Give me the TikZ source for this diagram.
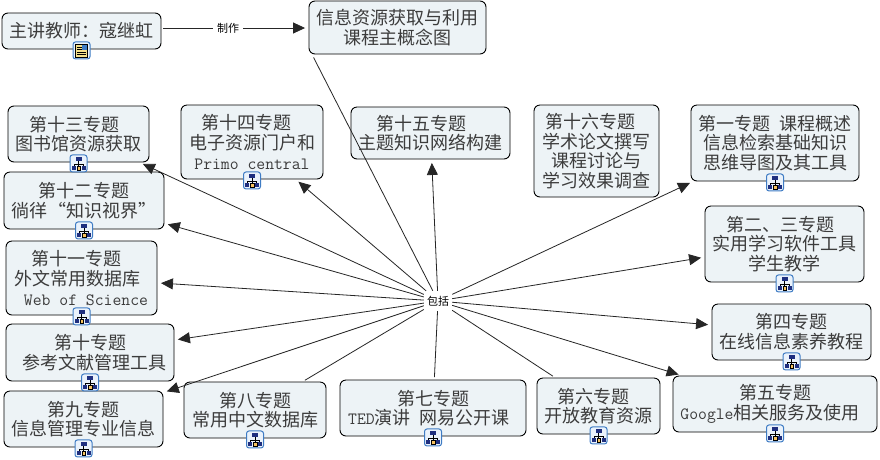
\documentclass[tikz,border=0pt]{standalone}
\usepackage{fontspec}
\setmainfont{Noto Sans CJK SC}
\usetikzlibrary{arrows.meta,calc}
\AtBeginDocument{\lineskiplimit=-100pt\relax}
\definecolor{boxfill}{HTML}{EDF3F6}
\definecolor{boxtext}{HTML}{3C3C3C}
\definecolor{iconblue}{HTML}{3F7CC4}
\definecolor{iconfill}{HTML}{EAF2FB}
\definecolor{iconnavy}{HTML}{1F2F7F}
\definecolor{iconyellow}{HTML}{F4E08A}
\newcommand{\lat}[1]{{\ttfamily\fontsize{17.2}{19.7}\selectfont #1}}
\newcommand{\tsp}[1]{\rule{#1pt}{0pt}}
\tikzset{
  topic/.style={draw=black,line width=0.9pt,fill=boxfill,rounded corners=6pt,inner sep=0pt,align=center,
    text=boxtext,font=\fontsize{18}{19.7}\selectfont},
  linklabel/.style={inner sep=0pt,text=black,font=\fontsize{11}{13}\selectfont},
  link/.style={draw=black!85,line width=0.8pt},
  arrowlink/.style={link,shorten >=3.5pt,-{Triangle[length=12pt,width=11pt]}},
  treeicon/.pic={
    \draw[iconblue,line width=1pt,fill=iconfill,rounded corners=2.5pt] (-8.5,-8.5) rectangle (8.5,8.5);
    \draw[black,line width=0.6pt] (0,-2) -- (0,1) (-4.5,3) -- (-4.5,1) -- (4.5,1) -- (4.5,3) (0,1) -- (0,3);
    \fill[iconnavy] (-3,-6.5) rectangle (3,-2);
    \fill[iconnavy] (-7,3) rectangle (-3,7);
    \fill[iconyellow!70!orange,draw=black,line width=0.3pt] (-1.8,3) rectangle (1.8,7);
    \fill[iconnavy] (3,3) rectangle (7,7);
  },
  docicon/.pic={
    \draw[iconblue,line width=1pt,fill=iconfill,rounded corners=2.5pt] (-8.5,-8.5) rectangle (8.5,8.5);
    \fill[iconyellow,draw=black,line width=0.5pt] (-6,-6.5) rectangle (6,6.5);
    \draw[black,line width=0.6pt] (-4.5,-3.5) -- (0,-3.5) (-4.5,-1) -- (0,-1) (-4.5,1.5) -- (4.5,1.5) (-4.5,4) -- (4.5,4);
    \fill[iconblue] (0.8,-5) rectangle (5,-0.5);
  },
}
\begin{document}
\begin{tikzpicture}[x=1pt,y=-1pt]
\useasboundingbox[fill=white] (0,0) rectangle (880,459);
% link labels
\node[linklabel,minimum width=30pt] (made) at (228,28) {制作};
\node[linklabel,minimum width=28pt,minimum height=20pt] (inc) at (438,301) {包括};
% topics
\node[topic,minimum width=159pt,minimum height=36pt] (teacher) at (81.5,31) {主讲教师：寇继虹};
\node[topic,minimum width=177pt,minimum height=53pt] (title) at (397.5,27.5) {信息资源获取与利用\\课程主概念图};
\node[topic,minimum width=141pt,minimum height=56pt] (t13) at (78.5,134) {第十三专题\tsp{9}\\图书馆资源获取};
\node[topic,minimum width=160pt,minimum height=57pt] (t12) at (84,200.5) {第十二专题\\徜徉“知识视界”};
\node[topic,minimum width=142pt,minimum height=74pt] (t14) at (252,142) {第十四专题\tsp{12}\\电子资源门户和\\\lat{Primo central}};
\node[topic,minimum width=159pt,minimum height=52pt] (t15) at (430.5,133) {第十五专题\tsp{18}\\主题知识网络构建};
\node[topic,minimum width=125pt,minimum height=92pt] (t16) at (596.5,151) {第十六专题\tsp{13}\\学术论文撰写\\课程讨论与\\学习效果调查};
\node[topic,minimum width=168pt,minimum height=76pt] (t1) at (775,143) {第一专题\tsp{9}课程概述\\信息检索基础知识\\思维导图及其工具};
\node[topic,minimum width=159pt,minimum height=76pt] (t2) at (784.5,244) {第二、三专题\tsp{9}\\实用学习软件工具\\学生教学};
\node[topic,minimum width=151pt,minimum height=74pt] (t11) at (81.5,278) {第十一专题\tsp{10}\\外文常用数据库\tsp{9}\\\tsp{9}\lat{Web of Science}};
\node[topic,minimum width=159pt,minimum height=56pt] (t4) at (791.5,332) {第四专题\\在线信息素养教程};
\node[topic,minimum width=168pt,minimum height=57pt] (t10) at (90,352.5) {第十专题\\\tsp{9}参考文献管理工具};
\node[topic,minimum width=204pt,minimum height=56pt] (t5) at (775,404) {第五专题\\\lat{Google}相关服务及使用\tsp{10}};
\node[topic,minimum width=159pt,minimum height=56pt] (t9) at (83.5,419) {第九专题\\信息管理专业信息};
\node[topic,minimum width=142pt,minimum height=56pt] (t8) at (255,410) {第八专题\\常用中文数据库};
\node[topic,minimum width=186pt,minimum height=56pt] (t7) at (433,408) {第七专题\\\lat{TED}演讲\tsp{9}网易公开课\tsp{8}};
\node[topic,minimum width=123pt,minimum height=56pt] (t6) at (598.5,406) {第六专题\tsp{10}\\开放教育资源};
% connectors
\coordinate (titlefoot) at ($(title.south west)+(5,3)$);
\draw[link] (teacher.east |- made) ++(2,0) -- (made);
\draw[arrowlink] (made) -- (title.west |- made);
\draw[link] (titlefoot) -- (inc);
\foreach \t in {t13,t12,t14,t15,t1,t2,t11,t4,t10,t5,t9}
  \draw[arrowlink] (inc) -- (\t);
\foreach \t in {t8,t7,t6}
  \draw[link,shorten >=2.5pt] (inc) -- (\t);
% icons
\pic at ($(teacher.south)+(0,1)$) {docicon};
\foreach \t in {t13,t12,t14,t1,t2,t11,t4,t10,t5,t9,t8,t7,t6}
  \pic at ($(\t.south)+(0,1)$) {treeicon};
\end{tikzpicture}
\end{document}
